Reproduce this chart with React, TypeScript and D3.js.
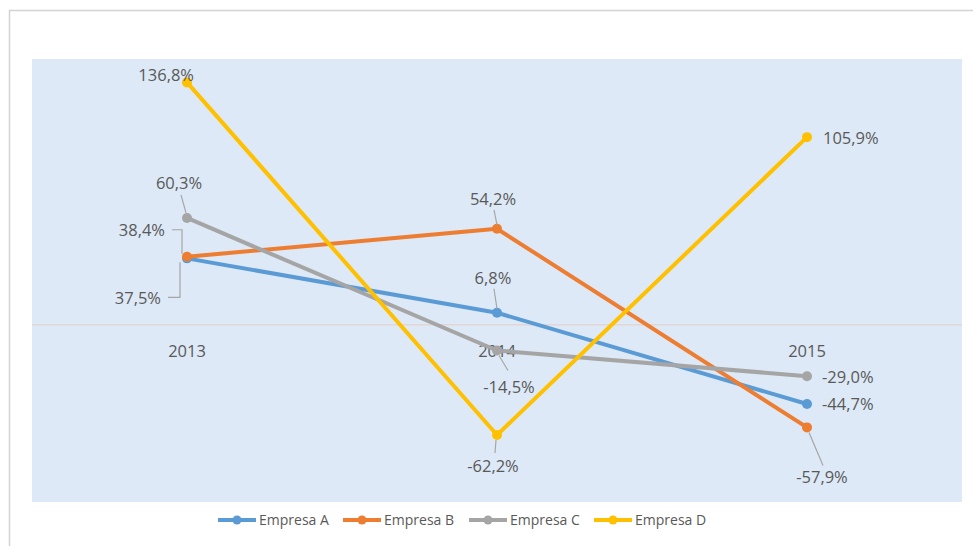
import React from "react";
import * as d3 from "d3";

const years = ["2013", "2014", "2015"];
const seriesNames = ["Empresa A", "Empresa B", "Empresa C", "Empresa D"];
const empresaA = [37.5, 6.8, -44.7];
const empresaB = [38.4, 54.2, -57.9];
const empresaC = [60.3, -14.5, -29.0];
const empresaD = [136.8, -62.2, 105.9];
const colors = ["#5B9BD5", "#ED7D31", "#A5A5A5", "#FFC000"];

const W = 973;
const H = 546;
const plot = { left: 32, right: 962, top: 59, bottom: 502 };

type Lbl = { dx: number; dy: number; anchor: string; leader?: [number, number][] };

// label placement offsets relative to the point (in px)
const labelPos: Lbl[][] = [
  [
    { dx: -26, dy: 40, anchor: "end", leader: [[-19, 39], [-7, 39], [-7, 4]] },
    { dx: -4, dy: -35, anchor: "middle", leader: [[-3, -24], [0, -4]] },
    { dx: 15, dy: 0, anchor: "start" },
  ],
  [
    { dx: -22, dy: -27, anchor: "end", leader: [[-15, -27], [-5, -27], [-5, -3]] },
    { dx: -4, dy: -30, anchor: "middle", leader: [[-3, -19], [0, -4]] },
    { dx: 15, dy: 50, anchor: "middle", leader: [[16, 38], [2, 5]] },
  ],
  [
    { dx: -8, dy: -35, anchor: "middle", leader: [[-6, -23], [-1, -5]] },
    { dx: 12, dy: 37, anchor: "middle", leader: [[11, 20], [2, 5]] },
    { dx: 15, dy: 1, anchor: "start" },
  ],
  [
    { dx: 7, dy: -7, anchor: "end" },
    { dx: -4, dy: 31, anchor: "middle", leader: [[-2, 18], [-1, 5]] },
    { dx: 16, dy: 1, anchor: "start" },
  ],
];

const fmt = (v: number) => v.toFixed(1).replace(".", ",") + "%";

export default function App() {
  const data = [empresaA, empresaB, empresaC, empresaD];
  const x = d3
    .scalePoint<string>()
    .domain(years)
    .range([plot.left, plot.right])
    .padding(0.5);
  const y = d3.scaleLinear().domain([-100, 150]).range([plot.bottom, plot.top]);
  const line = d3
    .line<number>()
    .x((_, i) => x(years[i]) as number)
    .y((d) => y(d));
  const font = "'Open Sans', 'Noto Sans', sans-serif";
  const textColor = "#595959";
  const legendX = [218, 343, 469, 594];
  const lblSize = 16.5;

  return (
    <svg
      width={W}
      height={H}
      style={{ position: "absolute", left: 0, top: 0, fontFamily: font }}
    >
      <rect x={0} y={0} width={W} height={H} fill="#ffffff" />
      <path d={`M9.5,${H} V10.5 H${W}`} fill="none" stroke="#d4d4d4" strokeWidth={1.5} />
      <rect
        x={plot.left}
        y={plot.top}
        width={plot.right - plot.left}
        height={plot.bottom - plot.top}
        fill="#DDE9F6"
      />
      <line
        x1={plot.left}
        x2={plot.right}
        y1={y(0)}
        y2={y(0)}
        stroke="#E3D6D6"
        strokeWidth={1.5}
      />
      {years.map((yr) => (
        <text
          key={yr}
          x={x(yr)}
          y={y(0) + 26}
          dy="0.35em"
          textAnchor="middle"
          fontSize={lblSize}
          fill={textColor}
        >
          {yr}
        </text>
      ))}
      {data.map((s, si) => (
        <g key={si}>
          <path
            d={line(s) || ""}
            fill="none"
            stroke={colors[si]}
            strokeWidth={4}
            strokeLinejoin="round"
            strokeLinecap="round"
          />
          {s.map((v, i) => (
            <circle key={i} cx={x(years[i])} cy={y(v)} r={5} fill={colors[si]} />
          ))}
        </g>
      ))}
      {data.map((s, si) =>
        s.map((v, i) => {
          const cx = x(years[i]) as number;
          const cy = y(v);
          const lp = labelPos[si][i];
          return (
            <g key={`${si}-${i}`}>
              {lp.leader && (
                <polyline
                  points={lp.leader.map(([a, b]) => `${cx + a},${cy + b}`).join(" ")}
                  fill="none"
                  stroke="#A6A6A6"
                  strokeWidth={1.2}
                />
              )}
              <text
                x={cx + lp.dx}
                y={cy + lp.dy}
                dy="0.35em"
                textAnchor={lp.anchor}
                fontSize={lblSize}
                fill={textColor}
              >
                {fmt(v)}
              </text>
            </g>
          );
        })
      )}
      {seriesNames.map((n, i) => (
        <g key={n} transform={`translate(${legendX[i]},520)`}>
          <line x1={0} x2={38} y1={0} y2={0} stroke={colors[i]} strokeWidth={4} />
          <circle cx={19} cy={0} r={4.5} fill={colors[i]} />
          <text x={41} y={0} dy="0.35em" fontSize={14} fill={textColor}>
            {n}
          </text>
        </g>
      ))}
    </svg>
  );
}
